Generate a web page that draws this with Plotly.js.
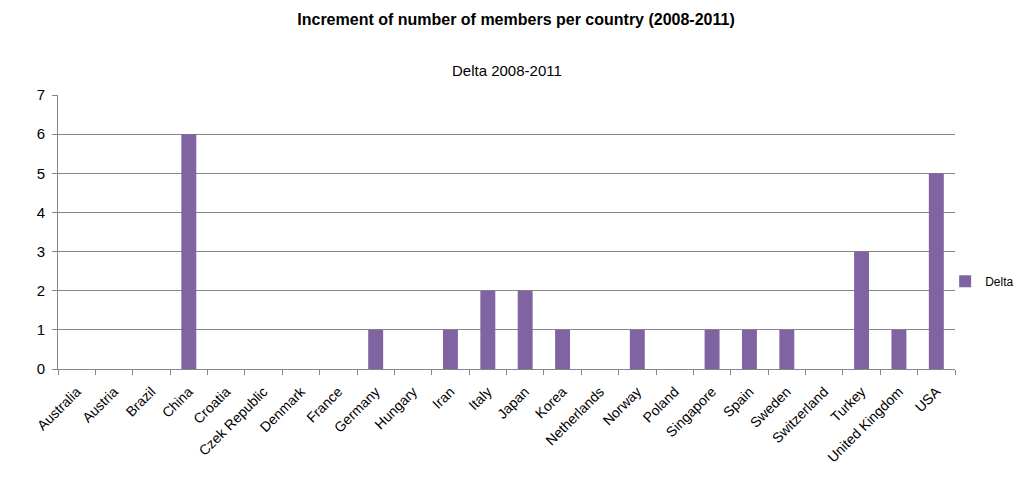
<!DOCTYPE html>
<html>
<head>
<meta charset="utf-8">
<script src="https://cdn.plot.ly/plotly-3.0.1.min.js"></script>
<style>html,body{margin:0;padding:0;background:#fff;}#chart{width:1032px;height:487px;}</style>
</head>
<body>
<div id="chart"></div>
<script>
const countries = ["Australia","Austria","Brazil","China","Croatia","Czek Republic","Denmark","France","Germany","Hungary","Iran","Italy","Japan","Korea","Netherlands","Norway","Poland","Singapore","Spain","Sweden","Switzerland","Turkey","United Kingdom","USA"];
const delta = [0,0,0,6,0,0,0,0,1,0,1,2,2,1,0,1,0,1,1,1,0,3,1,5];
const seriesName = "Delta";
const chartTitle = "Increment of number of members per country (2008-2011)";
const subTitle = "Delta 2008-2011";

const trace = {
  type: "bar",
  x: countries,
  y: delta,
  name: seriesName,
  marker: {color: "#8064A2"},
  width: 0.4,
  showlegend: true
};

const layout = {
  width: 1032,
  height: 487,
  margin: {l: 58, r: 77, t: 95, b: 118, autoexpand: false},
  paper_bgcolor: "#ffffff",
  plot_bgcolor: "#ffffff",
  font: {family: "Liberation Sans, Arial, sans-serif", color: "#000"},
  title: {text: "<b>" + chartTitle + "</b>", font: {size: 16, family: "Liberation Sans, Arial, sans-serif", color: "#000"}, x: 0.5, xanchor: "center", y: 0.96, yanchor: "middle", yref: "container"},
  annotations: [{
    text: subTitle, xref: "paper", yref: "paper", x: 0.5, y: 1.0, yshift: 25, showarrow: false,
    xanchor: "center", yanchor: "middle", font: {size: 15, color: "#000"}
  }],
  xaxis: {
    type: "category",
    tickangle: -45,
    tickson: "boundaries",
    ticks: "outside",
    ticklen: 5,
    tickcolor: "#868686",
    showline: true,
    linecolor: "#868686",
    linewidth: 1,
    showgrid: false,
    ticklabelstandoff: 8,
    tickfont: {size: 14, color: "#000"},
    fixedrange: true
  },
  yaxis: {
    range: [0, 7],
    dtick: 1,
    tick0: 0,
    ticks: "outside",
    ticklen: 5,
    tickcolor: "#868686",
    showline: true,
    linecolor: "#868686",
    linewidth: 1,
    showgrid: true,
    gridcolor: "#868686",
    gridwidth: 1,
    zeroline: false,
    ticklabelstandoff: 4,
    tickfont: {size: 15, color: "#000"},
    fixedrange: true
  },
  showlegend: true,
  legend: {x: 0.989, xanchor: "left", y: 0.32, yanchor: "middle", font: {size: 12, color: "#000"}, itemwidth: 30, bgcolor: "rgba(0,0,0,0)"}
};

Plotly.newPlot("chart", [trace], layout, {displayModeBar: false, staticPlot: true});
</script>
</body>
</html>
